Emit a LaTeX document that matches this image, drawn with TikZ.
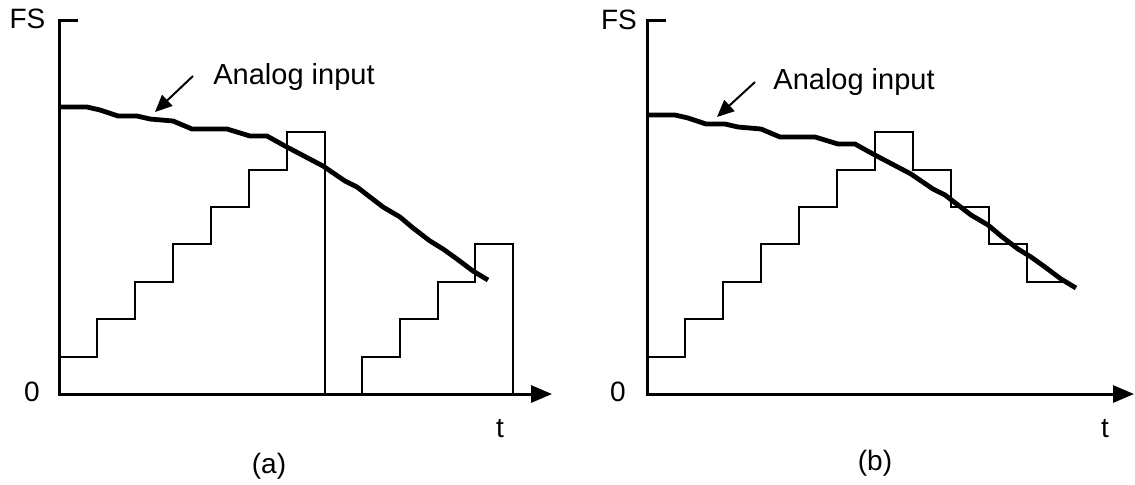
\documentclass[tikz,border=0pt]{standalone}
\usepackage{fontspec}
\setmainfont{Liberation Sans}
\usetikzlibrary{arrows.meta}
\begin{document}
\begin{tikzpicture}[x=0.5pt,y=-0.5pt,line join=miter]
\tikzset{
axisline/.style={draw=black, line width=1.5pt, -{Triangle[length=10.5pt,width=8.5pt]}},
stairline/.style={draw=black, line width=1pt},
analogline/.style={draw=black, line width=2.4pt, line join=round},
pointer/.style={draw=black, line width=1pt, -{Triangle[length=8.5pt,width=7.5pt]}},
axlabel/.style={inner sep=0pt, font=\fontsize{14}{16}\selectfont},
inlabel/.style={inner sep=0pt, anchor=base west, font=\fontsize{14.5}{17}\selectfont},
analog/.pic={
  \draw[analogline] (59,107) -- (87,107) -- (100,110) -- (118,116) -- (137,116) -- (150,119)
    -- (173,121) -- (192,129) -- (227,129) -- (250,136) -- (267,136) -- (285,146)
    -- (323,166) -- (345,181) -- (357,187) -- (383,207) -- (400,217) -- (413,228)
    -- (430,241) -- (443,249) -- (457,259) -- (473,271) -- (488,280);
}
}
\useasboundingbox (0,0) rectangle (1135,484);

% panel (a): counter ramp restarts
\draw[axisline] (78,20) -- (59,20) -- (59,394) -- (552,394);
\node[axlabel] (fsa) at (27.5,19) {FS};
\node[axlabel] (zeroa) at (32,392) {0};
\node[axlabel] (ta) at (500,429) {t};
\node[axlabel] (capa) at (269,466) {(a)};

\draw[stairline] (59,357) -| (97,319) -| (135,282) -| (173,244) -| (211,207) -| (249,170)
  -| (287,132) -| (325,394) -| (362,357) -| (400,319) -| (438,282) -| (475,244) -| (513,394);
\pic at (0,0) {analog};

\node[inlabel] (lbla) at (213,84) {Analog input};
\coordinate (ptra) at (193,76);
\coordinate (tipa) at (155,112);
\draw[pointer] (ptra) -- (tipa);

% panel (b): tracking up/down counter
\draw[axisline] (666,20) -- (647,20) -- (647,394) -- (1134,394);
\node[axlabel] (fsb) at (619,20) {FS};
\node[axlabel] (zerob) at (618,392) {0};
\node[axlabel] (tb) at (1105,429) {t};
\node[axlabel] (capb) at (875,463) {(b)};

\draw[stairline] (647,357) -| (685,319) -| (723,282) -| (761,244) -| (799,207) -| (837,170)
  -| (875,132) -| (913,170) -| (951,207) -| (989,244) -| (1027,282) -- (1063,282);
\pic at (588,8) {analog};

\node[inlabel] (lblb) at (773,89) {Analog input};
\coordinate (ptrb) at (755,82);
\coordinate (tipb) at (717,117);
\draw[pointer] (ptrb) -- (tipb);
\end{tikzpicture}
\end{document}
